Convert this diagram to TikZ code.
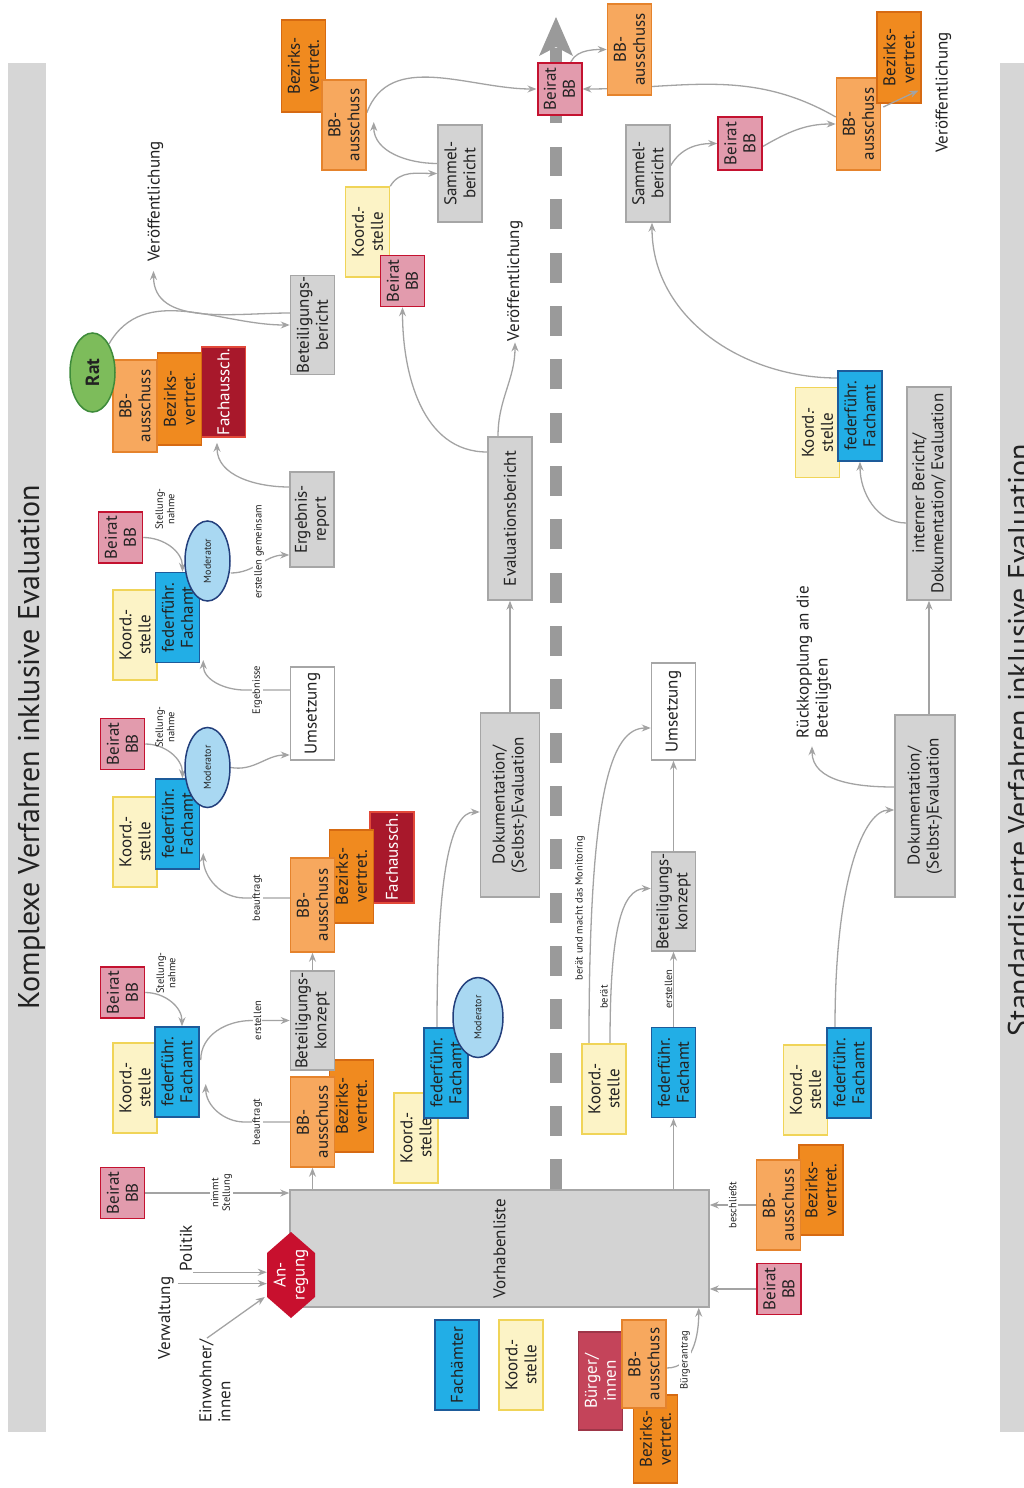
\documentclass[tikz,border=0pt]{standalone}
\usepackage{fontspec}
\setmainfont{PT Sans}
\usetikzlibrary{arrows.meta,calc,shapes.geometric}
\pgfdeclarelayer{bg}
\pgfsetlayers{bg,main}
\definecolor{grF}{HTML}{D3D3D3}
\definecolor{grD}{HTML}{A6A6A6}
\definecolor{koF}{HTML}{FCF3C6}
\definecolor{koD}{HTML}{F0D458}
\definecolor{blF}{HTML}{22AEE6}
\definecolor{blD}{HTML}{1D5B9A}
\definecolor{beF}{HTML}{E29BAD}
\definecolor{beD}{HTML}{C41230}
\definecolor{bbF}{HTML}{F7A85E}
\definecolor{bbD}{HTML}{E5832C}
\definecolor{bvF}{HTML}{F08A1F}
\definecolor{bvD}{HTML}{D66A12}
\definecolor{faF}{HTML}{A8182B}
\definecolor{faD}{HTML}{E2493A}
\definecolor{raF}{HTML}{7DBC5B}
\definecolor{raD}{HTML}{3E8B3A}
\definecolor{moF}{HTML}{A9D8F2}
\definecolor{moD}{HTML}{233F7C}
\definecolor{anF}{HTML}{C8102E}
\definecolor{buF}{HTML}{C4445A}
\definecolor{arC}{HTML}{A3A3A3}
\definecolor{daC}{HTML}{9A9A9A}
\definecolor{barC}{HTML}{D6D6D6}
\definecolor{txC}{HTML}{222222}
\newcommand\myBx{\fontsize{17}{19}\selectfont}
\newcommand\mySm{\fontsize{10.5}{11.5}\selectfont}
\newcommand\myMo{\fontsize{10}{11}\selectfont}
\newcommand\myTtl{\fontsize{30}{32}\selectfont}
\newcommand\myRat{\fontsize{19}{21}\selectfont\bfseries}
\tikzset{
  bx/.style={draw, rectangle, rotate=90, line width=1.5pt, inner sep=1pt, align=center,
    font=\myBx, text=txC, minimum width=90pt, minimum height=44pt},
  koord/.style={bx, fill=koF, draw=koD},
  fach/.style={bx, fill=blF, draw=blD},
  beirat/.style={bx, fill=beF, draw=beD, minimum width=51pt},
  bba/.style={bx, fill=bbF, draw=bbD},
  bzv/.style={bx, fill=bvF, draw=bvD},
  fas/.style={bx, fill=faF, draw=faD, text=white},
  gbox/.style={bx, fill=grF, draw=grD},
  wbox/.style={bx, fill=white, draw=grD},
  mod/.style={ellipse, draw=moD, fill=moF, rotate=90, line width=1.5pt, inner sep=0pt,
    minimum width=80pt, minimum height=45pt, font=\myMo, text=txC},
  rat/.style={ellipse, draw=raD, fill=raF, rotate=90, line width=1.5pt, inner sep=0pt,
    minimum width=79pt, minimum height=45pt, font=\myRat, text=txC},
  lbl/.style={rotate=90, font=\mySm, fill=white, inner sep=1pt, align=center, text=txC},
  txt/.style={rotate=90, font=\myBx, inner sep=1pt, align=center, text=txC},
  arr/.style={draw=arC, line width=1.3pt, -{Stealth[length=9pt,width=7pt]}}
}
\begin{document}
\begin{tikzpicture}[x=1pt,y=1pt]
\useasboundingbox (0,0) rectangle (1024,-1488);
% side bars and titles
\fill[barC] (8,-63) rectangle (46,-1432);
\node[rotate=90, anchor=base, font=\myTtl, text=txC, inner sep=0pt] (ttlL) at (39,-747) {Komplexe Verfahren inklusive Evaluation};
\begin{scope}
\clip (0,0) rectangle (1024,-1488);
\fill[barC] (1000,-63) rectangle (1030,-1432);
\node[rotate=90, anchor=base, font=\myTtl, text=txC, inner sep=0pt] (ttlR) at (1029,-740) {Standardisierte Verfahren inklusive Evaluation};
\end{scope}

% ---------- left column ----------
\node[beirat] (beiratA) at (122.5,-1193) {Beirat\\BB};
\node[koord] (koordA) at (135,-1088) {Koord.-\\stelle};
\node[fach] (fachA) at (177,-1072) {federführ.\\Fachamt};
\node[beirat] (beiratB) at (122.5,-992.5) {Beirat\\BB};
\node[bzv, minimum width=92pt] (bvA) at (351.5,-1106) {Bezirks-\\vertret.};
\node[bba] (bbA) at (312.5,-1122) {BB-\\ausschuss};
\node[gbox, minimum width=95pt] (bkA) at (312.5,-1020.5) {Beteiligungs-\\konzept};
\node[fas, minimum width=91pt] (faB) at (392,-857.5) {Fachaussch.};
\node[bzv, minimum width=93pt] (bvB) at (351.5,-876.5) {Bezirks-\\vertret.};
\node[bba, minimum width=94pt] (bbB) at (312.5,-905) {BB-\\ausschuss};
\node[koord] (koordB) at (135,-842) {Koord.-\\stelle};
\node[fach] (fachB) at (177.5,-824) {federführ.\\Fachamt};
\node[mod] (modB) at (207.5,-767.5) {Moderator};
\node[beirat] (beiratC) at (122.5,-744) {Beirat\\BB};
\node[wbox, minimum width=93pt] (umsA) at (312.5,-713.5) {Umsetzung};
\node[koord] (koordC) at (135,-635) {Koord.-\\stelle};
\node[fach] (fachC) at (177.5,-617.5) {federführ.\\Fachamt};
\node[mod] (modC) at (207.5,-561) {Moderator};
\node[beirat] (beiratD) at (120.5,-537.5) {Beirat\\BB};
\node[gbox, minimum width=95pt] (erA) at (312,-519.5) {Ergebnis-\\report};
\node[fas] (faR) at (223.5,-392) {Fachaussch.};
\node[bzv, minimum width=92pt] (bvR) at (179.5,-399) {Bezirks-\\vertret.};
\node[bba, minimum width=92pt] (bbR) at (135,-406) {BB-\\ausschuss};
\node[rat] (rat) at (92.5,-372.5) {Rat};
\node[gbox, minimum width=96pt] (bberA) at (312.5,-325) {Beteiligungs-\\bericht};
\node[txt] (veroA) at (155.5,-201.5) {Veröffentlichung};
\node[bzv, minimum width=92pt] (bvT) at (303.5,-66) {Bezirks-\\vertret.};
\node[bba] (bbT) at (344,-125) {BB-\\ausschuss};
\node[koord] (koordT) at (367.5,-232) {Koord.-\\stelle};
\node[beirat] (beiratT) at (402.5,-281) {Beirat\\BB};
\node[gbox, minimum width=97pt] (sammelL) at (460,-173.5) {Sammel-\\bericht};
\node[txt] (veroB) at (515,-281) {Veröffentlichung};
\node[gbox, minimum width=163pt] (evalL) at (510,-518.5) {Evaluationsbericht};
\node[gbox, minimum width=184pt, minimum height=59pt] (dokL) at (510,-805) {Dokumentation/\\(Selbst-)Evaluation};
\node[koord] (koordD) at (416,-1138) {Koord.-\\stelle};
\node[fach] (fachD) at (446,-1073) {federführ.\\Fachamt};
\node[mod, minimum height=50pt] (modD) at (478,-1017.5) {Moderator};
\node[gbox, minimum width=117pt, minimum height=419pt] (vorhaben) at (499.5,-1248.5) {Vorhabenliste};
\fill[anF] (291,-1232) -- (315,-1253) -- (315,-1297) -- (291,-1318) -- (267,-1297) -- (267,-1253) -- cycle;
\node[rotate=90, font=\myBx, text=white, align=center, minimum width=86pt, minimum height=48pt, inner sep=0pt] (anregung) at (291,-1275) {An-\\regung};
\node[txt] (politik) at (186,-1248) {Politik};
\node[txt] (verwaltung) at (166,-1318) {Verwaltung};
\node[txt, align=left] (einwohner) at (215,-1381) {Einwohner/\\innen};

% ---------- centre / right ----------
\node[beirat, line width=2pt] (beiratTop) at (559.5,-89) {Beirat\\BB};
\node[bba, minimum width=91pt] (bbTR) at (629.5,-49.5) {BB-\\ausschuss};
\node[koord] (koordE) at (604,-1089) {Koord.-\\stelle};
\node[fach] (fachE) at (673.5,-1072.5) {federführ.\\Fachamt};
\node[gbox, minimum width=97pt] (bkB) at (673.5,-901.5) {Beteiligungs-\\konzept};
\node[wbox, minimum width=97pt] (umsB) at (673.5,-711.5) {Umsetzung};
\node[gbox, minimum width=97pt] (sammelR) at (648,-173.5) {Sammel-\\bericht};
\node[beirat, minimum width=53pt] (beiratR) at (740,-143.5) {Beirat\\BB};
\node[bba, minimum width=92pt] (bbR2) at (858.5,-124) {BB-\\ausschuss};
\node[bzv, minimum width=91pt] (bvR2) at (899,-57.5) {Bezirks-\\vertret.};
\node[txt] (veroC) at (943.5,-92.5) {Veröffentlichung};
\node[koord] (koordS2) at (817.5,-432.5) {Koord.-\\stelle};
\node[fach] (fachS2) at (860,-416) {federführ.\\Fachamt};
\node[gbox, minimum width=213pt] (internal) at (929,-493.5) {interner Bericht/\\Dokumentation/ Evaluation};
\node[gbox, minimum width=182pt, minimum height=60pt] (dokR) at (925,-806) {Dokumentation/\\(Selbst-)Evaluation};
\node[txt, align=left] (rueck) at (814,-662) {Rückkopplung an die\\Beteiligten};
\node[koord] (koordS) at (805.5,-1090) {Koord.-\\stelle};
\node[fach] (fachS) at (849,-1073) {federführ.\\Fachamt};
\node[bzv] (bvS) at (821,-1190) {Bezirks-\\vertret.};
\node[bba] (bbS) at (778.5,-1205) {BB-\\ausschuss};
\node[beirat] (beiratS) at (779,-1289) {Beirat\\BB};
% bottom
\node[fach] (legFach) at (457,-1365) {Fachämter};
\node[koord] (legKoord) at (521,-1365) {Koord.-\\stelle};
\node[bx, fill=buF, draw=buF!80!black, text=white, minimum width=98pt] (buerger) at (600.5,-1381) {Bürger/\\innen};
\node[bzv, minimum width=88pt] (bvBot) at (655.5,-1439) {Bezirks-\\vertret.};
\node[bba, minimum width=88pt] (bbBot) at (644,-1364) {BB-\\ausschuss};

\draw[arr] ($(bbR2.south)+(2,17)$) -- ($(veroC.north)+(-16,2)$);

% ---------- connectors ----------
\begin{pgfonlayer}{bg}
\draw[daC, line width=12pt, dash pattern=on 30pt off 23.33pt] (vorhaben.east -| 556,0) -- (556,-147);
\draw[daC, line width=12pt] (556,-123) -- (556,-48);
\fill[daC] (556,-17) -- (573,-56) -- (556,-47) -- (539,-56) -- cycle;

\draw[arr] (politik.south west) -- (politik.south west -| anregung.north);
\coordinate (vw) at ($(verwaltung.south east)+(3,-8)$);
\draw[arr] (vw) -- (vw -| anregung.north);
\draw[arr] ($(einwohner.east)+(-8,0)$) -- ($(anregung.north)+(-2,-22)$);

\draw[arr] (beiratA.south) -- node[lbl, pos=0.53]{nimmt\\Stellung} (beiratA.south -| vorhaben.north);
\draw[arr] ($(bbA.west)+(0,-62)$) -- (bbA.west);
\draw[arr] (bbA.north) -- node[lbl, pos=0.72]{beauftragt} ++(-45,0) to[out=180,in=-90] ($(fachA.south)+(6,-12)$);
\draw[arr] ($(fachA.south)+(1,12)$) to[out=90,in=180] ($(bkA.north)+(-38,0)$) -- node[lbl,pos=0.15]{erstellen} (bkA.north);
\draw[arr] (beiratB.south) to[out=0,in=90] ($(fachA.east)+(5,0)$);
\node[lbl, fill=none] (snA) at (166,-973) {Stellung-\\nahme};

\draw[arr] (bkA.east) -- (bbB.west);
\draw[arr] ($(bbB.north)+(0,7)$) -- node[lbl,pos=0.72]{beauftragt} ++(-45,0) to[out=180,in=-90] ($(fachB.south)+(3,-29)$);
\draw[arr] (beiratC.south) to[out=0,in=90] ($(fachB.east)+(5,0)$);
\node[lbl, fill=none] (snB) at (165,-727) {Stellung-\\nahme};
\draw[arr] (modB.south) to[out=-10,in=180] ($(umsA.north)+(0,-41.5)$);

\draw[arr] ($(umsA.north)+(0,23.5)$) -- node[lbl,pos=0.72]{Ergebnisse} ++(-45,0) to[out=180,in=-90] ($(fachC.south)+(3,-42.5)$);
\draw[arr] (beiratD.south) to[out=0,in=90] ($(fachC.east)+(5,0)$);
\node[lbl, fill=none] (snC) at (165,-509) {Stellung-\\nahme};
\draw[arr] ($(modC.south)+(0,-12)$) to[out=0,in=180] ($(erA.north)+(0,-35.5)$);
\node[lbl] (lblEG) at (259,-552) {erstellen gemeinsam};

\draw[arr] ($(erA.north)+(0,32.5)$) to[out=180,in=-90] ($(faR.west)+(-6.5,-5)$);
\draw[arr] (rat.south east) to[out=60,in=180] (bberA.north);
\draw[arr] ($(bberA.north)+(0,12)$) to[out=180,in=-90] ($(veroA.west)+(-2,-8)$);

\draw[arr] (koordT.south east) to[out=60,in=180] (sammelL.north);
\draw[arr] ($(sammelL.north)+(0,10)$) to[out=180,in=-90] ($(bbT.south)+(7,3)$);
\draw[arr] ($(bbT.south)+(0,12)$) to[out=70,in=180] (beiratTop.north);
\draw[arr] ($(beiratTop.east)+(10,-4)$) to[out=80,in=180] (bbTR.north);
\draw[arr] ($(bbR2.north)+(0,7)$) to[out=150,in=0] (beiratTop.south);

\draw[arr] ($(evalL.north)+(0,66.5)$) to[out=180,in=-90] (beiratT.west);
\draw[arr] ($(evalL.east)+(-12,0)$) to[out=90,in=-90] (veroB.west);
\draw[arr] (dokL.east) -- (evalL.west);
\draw[arr] ($(fachD.east)+(-9,0)$) .. controls ($(fachD.east)+(-9,150)$) and ($(dokL.north)+(-30,-7)$) .. ($(dokL.north)+(0,-7)$);

\draw[arr] (fachE.west |- vorhaben.east) -- (fachE.west);
\draw[arr] (fachE.east) -- (bkB.west);
\node[lbl, fill=none, anchor=south] (lblE2) at ($(fachE.east)!0.5!(bkB.west)$) {erstellen};
\draw[arr] (bkB.east) -- (umsB.west);
\draw[arr] ($(koordE.east)+(6,0)$) .. controls ($(koordE.east)+(6,110)$) and ($(bkB.north)+(-30,13)$) .. ($(bkB.north)+(0,13)$);
\node[lbl, fill=none] (lblB) at (604,-997) {berät};
\draw[arr] ($(koordE.east)+(-15,0)$) .. controls ($(koordE.east)+(-15,250)$) and ($(umsB.north)+(-40,-16.5)$) .. ($(umsB.north)+(0,-16.5)$);
\node[lbl, fill=none] (lblM) at (580,-908) {berät und macht das Monitoring};

\draw[arr] (bbS.north) -- node[lbl]{beschließt} (bbS.north -| vorhaben.south);
\draw[arr] (beiratS.north) -- (beiratS.north -| vorhaben.south);
\draw[arr] ($(bbBot.south)+(0,-4)$) to[out=0,in=-90] ($(vorhaben.south west)+(-11,0)$);
\node[lbl] (lblBA) at (685,-1360) {Bürgerantrag};

\draw[arr] ($(fachS.east)+(-14,0)$) .. controls ($(fachS.east)+(-14,150)$) and ($(dokR.north)+(-30,-4)$) .. ($(dokR.north)+(0,-4)$);
\draw[arr] ($(dokR.north)+(0,19)$) to[out=180,in=-90] ($(rueck.west)+(-2,-7)$);
\draw[arr] (internal.west |- dokR.east) -- (internal.west);
\draw[arr] ($(internal.north)+(0,-29.5)$) to[out=180,in=-90] (fachS2.west);
\draw[arr] ($(fachS2.north)+(0,38)$) to[out=180,in=-90] ($(sammelR.west)+(4,0)$);
\draw[arr] ($(sammelR.south)+(0,8)$) to[out=60,in=180] (beiratR.north);
\draw[arr] ($(beiratR.south)+(0,-3)$) to[out=30,in=180] (bbR2.north);
\end{pgfonlayer}
\end{tikzpicture}
\end{document}
